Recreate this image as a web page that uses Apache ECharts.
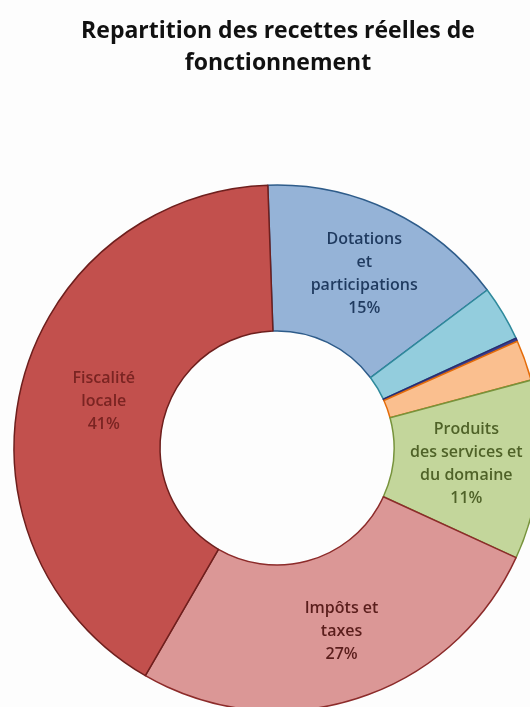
<!DOCTYPE html>
<html>
<head>
<meta charset="utf-8">
<script src="https://cdn.jsdelivr.net/npm/echarts@6/dist/echarts.min.js"></script>
<style>
  html, body { margin: 0; padding: 0; background: #fdfdfd; }
  #chart { width: 530px; height: 707px; }
</style>
</head>
<body>
<div id="chart"></div>
<script>
// slices, clockwise from the top
var names = [
  'Dotations et participations',
  'Autres produits de gestion courante',
  'Produits financiers',
  'Atténuations de charges',
  'Produits des services et du domaine',
  'Impôts et taxes',
  'Fiscalité locale'
]
var labels = [
  'Dotations\net\nparticipations',
  '',
  '',
  '',
  'Produits\ndes services et\ndu domaine',
  'Impôts et\ntaxes',
  'Fiscalité\nlocale'
]
var shares = [15.3, 3.4, 0.2, 2.5, 11.0, 26.5, 41.1]

var fills = ['#95b3d7', '#93cddd', '#3b3f8f', '#fabf8f', '#c3d69b', '#db9796', '#c2504d']
var borders = ['#2e5c8a', '#2f8a9c', '#2a2a70', '#e46c0a', '#77933c', '#8c2b2a', '#6e1f1d']
var textColors = ['#1f3a5f', '', '', '', '#4f6228', '#5a1e1c', '#7a2422']
var labelShift = [[4, 0], [0, 0], [0, 0], [0, 0], [-3, 0], [6, 0], [14, 0]]

var chart = echarts.init(document.getElementById('chart'))

chart.setOption({
  backgroundColor: '#fdfdfd',
  title: {
    text: 'Repartition des recettes réelles de\nfonctionnement',
    left: 273,
    top: 10,
    textAlign: 'center',
    textStyle: {
      fontFamily: 'Open Sans',
      fontWeight: 'bold',
      fontSize: 23,
      lineHeight: 32,
      color: '#111'
    }
  },
  series: [
    {
      type: 'pie',
      center: [277, 448],
      radius: [117, 263],
      startAngle: 92,
      clockwise: true,
      avoidLabelOverlap: false,
      animation: false,
      label: {
        show: true,
        position: 'inside',
        fontFamily: 'Open Sans',
        fontSize: 16,
        fontWeight: 600,
        lineHeight: 23,
        align: 'center'
      },
      labelLine: { show: false },
      data: names.map(function (n, i) {
        return {
          name: n,
          value: shares[i],
          itemStyle: {
            color: fills[i],
            borderColor: borders[i],
            borderWidth: 1.5
          },
          label: {
            show: labels[i] !== '',
            color: textColors[i] || '#333',
            offset: labelShift[i],
            formatter: function (p) {
              return labels[i] + '\n' + Math.round(p.value) + '%'
            }
          }
        }
      })
    }
  ]
})
</script>
</body>
</html>
